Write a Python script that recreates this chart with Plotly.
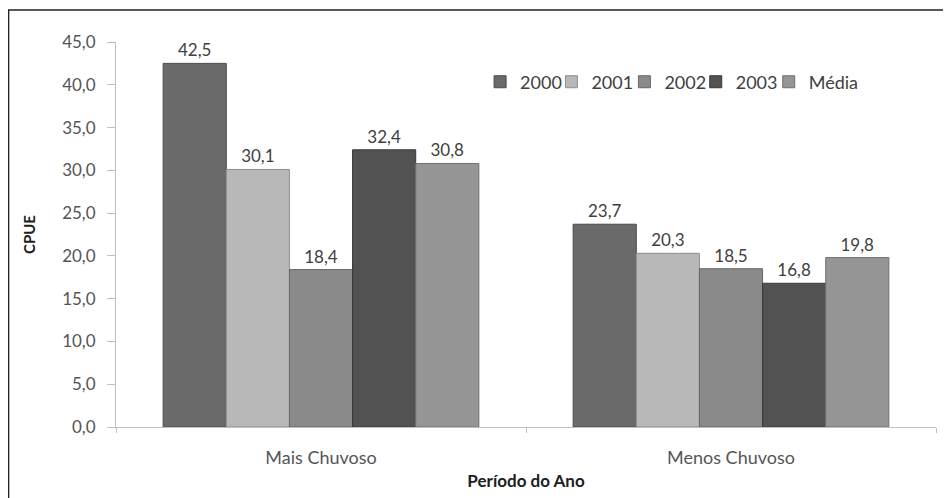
import plotly.graph_objects as go

categories = ["Mais Chuvoso", "Menos Chuvoso"]
series_names = ["2000", "2001", "2002", "2003", "Média"]
v2000 = [42.5, 23.7]
v2001 = [30.1, 20.3]
v2002 = [18.4, 18.5]
v2003 = [32.4, 16.8]
vmedia = [30.8, 19.8]
y_ticks = [0, 5, 10, 15, 20, 25, 30, 35, 40, 45]

values = [v2000, v2001, v2002, v2003, vmedia]
colors = ["#6a6a6a", "#b8b8b8", "#8a8a8a", "#525252", "#959595"]
lines = ["#4a4a4a", "#8e8e8e", "#666666", "#383838", "#707070"]
legend_ids = ["legend", "legend2", "legend3", "legend4", "legend5"]
legend_x = [0.444, 0.531, 0.620, 0.707, 0.796]

FONT = "Lato, Open Sans, sans-serif"

fig = go.Figure()
for name, vals, c, lc, lid in zip(series_names, values, colors, lines, legend_ids):
    fig.add_trace(go.Bar(
        name=name, x=categories, y=vals,
        marker=dict(color=c, line=dict(color=lc, width=1)),
        text=[f"{v:.1f}".replace(".", ",") for v in vals],
        textposition="outside",
        textfont=dict(size=17, color="#404040", family=FONT),
        cliponaxis=False,
        legend=lid,
    ))

legend_common = dict(orientation="h", y=0.896, xanchor="left", yanchor="middle",
                     font=dict(size=18, color="#404040", family=FONT),
                     bgcolor="rgba(0,0,0,0)", itemwidth=30)

layout_legends = {}
for lid, lx in zip(legend_ids, legend_x):
    layout_legends[lid] = dict(legend_common, x=lx)

fig.update_layout(
    width=943, height=490,
    margin=dict(l=108, r=15, t=34, b=71),
    paper_bgcolor="white", plot_bgcolor="white",
    barmode="group", bargap=0.23, bargroupgap=0,
    separators=",.",
    font=dict(family=FONT, size=17, color="#555555"),
    showlegend=True,
    xaxis=dict(
        automargin=False,
        showline=True, linecolor="#c0c0c0", linewidth=1,
        ticks="outside", ticklen=5, tickcolor="#c0c0c0",
        tickson="boundaries", ticklabelstandoff=14,
        showgrid=False,
        tickfont=dict(size=18, color="#555555", family=FONT),
        title=dict(text="<b>Período do Ano</b>", font=dict(size=17, color="#202020", family=FONT), standoff=8),
    ),
    yaxis=dict(
        automargin=False,
        range=[0, 45], tickvals=y_ticks, tickformat=".1f",
        showline=True, linecolor="#c0c0c0", linewidth=1,
        ticks="outside", ticklen=8, tickcolor="#c0c0c0",
        ticklabelstandoff=8,
        showgrid=False, zeroline=False,
        tickfont=dict(size=17, color="#555555", family=FONT),
        title=dict(text="<b>CPUE</b>", font=dict(size=15, color="#202020", family=FONT), standoff=22),
    ),
    shapes=[dict(type="rect", xref="paper", yref="paper",
                 x0=-0.131, x1=1.1, y0=-0.3, y1=1.083,
                 line=dict(color="#222222", width=1.5), fillcolor="rgba(0,0,0,0)", layer="below")],
    **layout_legends,
)

fig.write_html("out.html")
